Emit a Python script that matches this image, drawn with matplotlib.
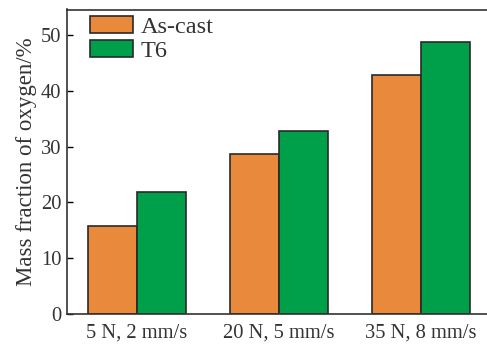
import matplotlib
matplotlib.use("Agg")
import matplotlib.pyplot as plt
import numpy as np

categories = ["5 N, 2 mm/s", "20 N, 5 mm/s", "35 N, 8 mm/s"]
as_cast = [15.7, 28.6, 42.7]
t6 = [21.8, 32.7, 48.6]
series_labels = ["As-cast", "T6"]
yticks = [0, 10, 20, 30, 40, 50]

plt.rcParams['font.family'] = ['Liberation Serif', 'DejaVu Serif']

fig = plt.figure(figsize=(4.87, 3.45), dpi=100)
ax = fig.add_axes([67/487, 1 - 314.3/345, 1 - 67/487, (314.3 - 9.5)/345])

x = np.arange(len(categories))
w = 0.345
ax.bar(x - w/2, as_cast, w, color='#E8893B', edgecolor='#2a2a2a', linewidth=1.2, label=series_labels[0])
ax.bar(x + w/2, t6, w, color='#00A04B', edgecolor='#2a2a2a', linewidth=1.2, label=series_labels[1])

ax.set_xlim(-0.493, 2.465)
ax.set_ylim(0, 54.5)
ax.set_yticks(yticks)
ax.set_xticks(x)
ax.set_xticklabels(categories, fontsize=14.8, color='#333333')
ax.tick_params(axis='y', direction='in', length=4, width=1, pad=4, labelsize=14.8, labelcolor='#333333')
ax.tick_params(axis='x', length=0, pad=7)
ax.set_ylabel("Mass fraction of oxygen/%", fontsize=16.5, color='#333333', labelpad=3)

for s in ['left', 'top', 'bottom']:
    ax.spines[s].set_linewidth(1.2)
    ax.spines[s].set_color('#333333')
ax.spines['right'].set_visible(False)

leg = ax.legend(loc='upper left', bbox_to_anchor=((90 - 67) / 420.0, (314.3 - 16) / 304.8),
                frameon=False, fontsize=17.5, handlelength=1.77, handleheight=0.7,
                handletextpad=0.3, labelspacing=0.07, borderaxespad=0, borderpad=0)
for t in leg.get_texts():
    t.set_color('#333333')

fig.savefig("out.png", dpi=100)
